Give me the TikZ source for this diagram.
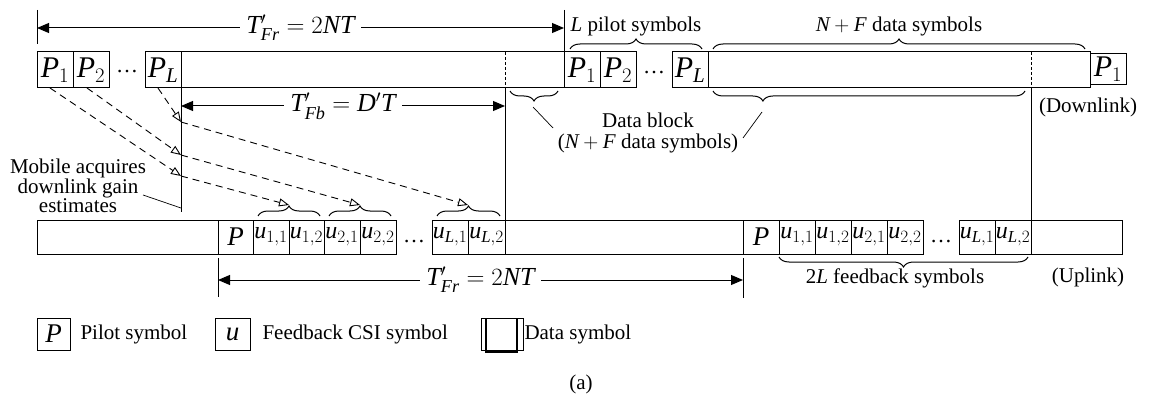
\documentclass[tikz,border=0pt]{standalone}
\usepackage{amsmath}
\usepackage{fontspec}
\setmainfont{Liberation Serif}
\usetikzlibrary{arrows.meta,decorations.pathreplacing,calc}
\newcommand{\fsz}[1]{\fontsize{#1}{#1}\selectfont}

\begin{document}
\begin{tikzpicture}[x=1pt,y=-1pt,line width=1pt,
  cell/.style={draw, inner sep=0pt, outer sep=0pt, anchor=west},
  dcell/.style={cell, minimum height=36pt, font=\fsz{30}},
  ucell/.style={cell, minimum height=34pt, font=\fsz{24}},
  txt/.style={font=\fsz{21}, inner sep=0pt},
  dotsym/.style={font=\fsz{22}, inner sep=0pt},
  dimarrow/.style={{Triangle[length=12pt,width=10pt]}-{Triangle[length=12pt,width=10pt]}},
  dimlabel/.style={fill=white, font=\fsz{26}, inner xsep=6pt, inner ysep=0pt},
  ray/.style={line width=0.9pt, dash pattern=on 7pt off 5pt, -{Triangle[open,length=10pt,width=8pt]}},
  brc/.style={decorate, decoration={brace, amplitude=10pt}},
  divider/.style={dash pattern=on 3pt off 2pt}
]
\useasboundingbox (0,0) rectangle (1150,406);

% ---------------- downlink frame ----------------
\node[dcell, minimum width=36pt] (dP1a) at (37,70) {$\mathit{P}_1$};
\node[dcell, minimum width=36pt] (dP2a) at (73,70) {$\mathit{P}_2$};
\node[dotsym] (ddotA) at (127,72) {\dots};
\node[dcell, minimum width=36pt] (dPLa) at (145,70) {$\mathit{P}_{\mathit{L}}$};
\node[dcell, minimum width=383pt] (dDa) at (181,70) {};
\node[dcell, minimum width=36pt] (dP1b) at (564,70) {$\mathit{P}_1$};
\node[dcell, minimum width=36pt] (dP2b) at (600,70) {$\mathit{P}_2$};
\node[dotsym] (ddotB) at (654,73) {\dots};
\node[dcell, minimum width=36pt] (dPLb) at (672,70) {$\mathit{P}_{\mathit{L}}$};
\node[dcell, minimum width=382pt] (dDb) at (708,70) {};
\node[dcell, minimum width=36pt, minimum height=31pt] (dP1c) at (1090,69) {$\mathit{P}_1$};

% ---------------- uplink frame ----------------
\node[ucell, minimum width=181pt] (uDa) at (37,237) {};
\node[ucell, minimum width=35pt, font=\fsz{27}] (uPa) at (218,237) {$\mathit{P}$};
\node[ucell, minimum width=36pt] (u11a) at (253,237) {$\mathit{u}_{1,1}$};
\node[ucell, minimum width=35pt] (u12a) at (289,237) {$\mathit{u}_{1,2}$};
\node[ucell, minimum width=36pt] (u21a) at (324,237) {$\mathit{u}_{2,1}$};
\node[ucell, minimum width=36pt] (u22a) at (360,237) {$\mathit{u}_{2,2}$};
\node[dotsym] (udotA) at (414,242) {\dots};
\node[ucell, minimum width=36pt] (uL1a) at (432,237) {$\mathit{u}_{\mathit{L},1}$};
\node[ucell, minimum width=37pt] (uL2a) at (468,237) {$\mathit{u}_{\mathit{L},2}$};
\node[ucell, minimum width=238pt] (uDb) at (505,237) {};
\node[ucell, minimum width=36pt, font=\fsz{27}] (uPb) at (743,237) {$\mathit{P}$};
\node[ucell, minimum width=36pt] (u11b) at (779,237) {$\mathit{u}_{1,1}$};
\node[ucell, minimum width=36pt] (u12b) at (815,237) {$\mathit{u}_{1,2}$};
\node[ucell, minimum width=36pt] (u21b) at (851,237) {$\mathit{u}_{2,1}$};
\node[ucell, minimum width=36pt] (u22b) at (887,237) {$\mathit{u}_{2,2}$};
\node[dotsym] (udotB) at (941,242) {\dots};
\node[ucell, minimum width=36pt] (uL1b) at (959,237) {$\mathit{u}_{\mathit{L},1}$};
\node[ucell, minimum width=36pt] (uL2b) at (995,237) {$\mathit{u}_{\mathit{L},2}$};
\node[ucell, minimum width=91pt] (uDc) at (1031,237) {};

% ---------------- frame boundaries ----------------
\draw[divider] (uL2a.north east |- dDa.north) -- (uL2a.north east |- dDa.south);
\draw (uL2a.north east |- dDa.south) -- (uL2a.north east);
\draw[divider] (uL2b.north east |- dDb.north) -- (uL2b.north east |- dDb.south);
\draw[line width=0.8pt] (uL2b.north east |- dDb.south) -- (uL2b.north east);

% ---------------- downlink frame period ----------------
\coordinate (tkA1) at ($(dP1a.north west)+(0,-42)$);
\coordinate (tkA2) at ($(dP1a.north west)+(0,-8)$);
\coordinate (tkB1) at ($(dP1b.north west)+(0,-42)$);
\draw (tkA1) -- (tkA2);
\draw (tkB1) -- (dP1b.north west);
\coordinate (tL) at ($(dP1a.north west)+(0,-24)$);
\coordinate (tR) at ($(dP1b.north west)+(0,-24)$);
\draw[dimarrow] (tL) -- node[dimlabel] (tFr) {$\mathit{T}'_{\mathit{Fr}} = 2\mathit{NT}$} (tR);

% ---------------- feedback delay ----------------
\coordinate (mbot) at ($(dPLa.south east)+(0,124)$);
\draw (dPLa.south east) -- (mbot);
\coordinate (fbL) at ($(dPLa.south east)+(0,18)$);
\coordinate (fbR) at ($(uL2a.north east |- dDa.south)+(0,18)$);
\draw[dimarrow] (fbL) -- node[dimlabel] (tFb) {$\mathit{T}'_{\mathit{Fb}} = \mathit{D}'\mathit{T}$} (fbR);

% ---------------- uplink frame period ----------------
\coordinate (tkC1) at ($(uPa.south west)+(0,4)$);
\coordinate (tkC2) at ($(uPa.south west)+(0,43)$);
\coordinate (tkD1) at ($(uPb.south west)+(0,4)$);
\coordinate (tkD2) at ($(uPb.south west)+(0,44)$);
\draw (tkC1) -- (tkC2);
\draw (tkD1) -- (tkD2);
\coordinate (bL) at ($(uPa.south west)+(0,26)$);
\coordinate (bR) at ($(uPb.south west)+(0,26)$);
\draw[dimarrow] (bL) -- node[dimlabel] (tFr2) {$\mathit{T}'_{\mathit{Fr}} = 2\mathit{NT}$} (bR);

% ---------------- braces on the downlink ----------------
\draw[brc] ($(dP1b.north west)+(6,-3)$) -- ($(dPLb.north east)+(-6,-3)$);
\node[txt] (lpil) at ($(dP1b.north west)!0.5!(dPLb.north east)+(0,-26)$) {$\mathit{L}$ pilot symbols};
\draw[brc] ($(dDb.north west)+(5,-3)$) -- ($(dDb.north east)+(-5,-3)$);
\node[txt] (nfd) at ($(dDb.north west)!0.5!(dDb.north east)+(0,-26)$) {$\mathit{N} + \mathit{F}$ data symbols};
\draw[brc] ($(dP1b.south west)+(-6,3)$) -- ($(uL2a.north east |- dDa.south)+(5,3)$);
\draw[brc, decoration={aspect=0.84}] ($(dDb.south west)+(317,3)$) -- ($(dDb.south west)+(5,3)$);

\node[txt] (dblk1) at (648,120) {Data block};
\node[txt] (dblk2) at (648,143) {($\mathit{N} + \mathit{F}$ data symbols)};
\coordinate (dbLa) at (533,107);
\coordinate (dbLb) at (553,128);
\coordinate (dbRa) at (762,112);
\coordinate (dbRb) at (743,138);
\draw[line width=0.7pt] (dbLa) -- (dbLb);
\draw[line width=0.7pt] (dbRa) -- (dbRb);

% ---------------- braces on the uplink ----------------
\draw[brc] ($(u11a.north west)+(5,-4)$) -- ($(u12a.north east)+(-4,-4)$);
\draw[brc] ($(u21a.north west)+(5,-4)$) -- ($(u22a.north east)+(-5,-4)$);
\draw[brc] ($(uL1a.north west)+(5,-4)$) -- ($(uL2a.north east)+(-5,-4)$);
\coordinate (bt1) at ($(u11a.north east)+(0,-15)$);
\coordinate (bt2) at ($(u21a.north east)+(0,-15)$);
\coordinate (btL) at ($(uL1a.north east)+(0,-15)$);
\draw[brc] ($(uL2b.south east)+(-3,3)$) -- ($(u11b.south west)+(0,3)$);
\node[txt] (fbs) at ($(u11b.south west)!0.5!(uL2b.south east)+(-10,24)$) {2$\mathit{L}$ feedback symbols};

% ---------------- channel estimates and feedback ----------------
\coordinate (m1) at ($(dPLa.south east)+(0,88)$);
\coordinate (m2) at ($(dPLa.south east)+(0,67)$);
\coordinate (mL) at ($(dPLa.south east)+(0,34)$);
\draw[ray] ([xshift=-5pt]dP1a.south) -- (m1);
\draw[ray] ([xshift=-4pt]dP2a.south) -- (m2);
\draw[ray] ([xshift=-5pt]dPLa.south) -- (mL);
\draw[ray] (m1) -- (bt1);
\draw[ray] (m2) -- (bt2);
\draw[ray] (mL) -- (btL);

\node[txt, align=center, font=\fontsize{21}{17.5}\selectfont] (mob) at (78,186) {Mobile acquires\\downlink gain\\estimates};
\coordinate (mobA) at (143,195);
\coordinate (mobB) at (181,208);
\draw[line width=0.7pt] (mobA) -- (mobB);

% ---------------- link names ----------------
\node[txt] (dnl) at (1088,107) {(Downlink)};
\node[txt] (upl) at (1088,277) {(Uplink)};

% ---------------- key ----------------
\node[cell, minimum width=33pt, minimum height=32pt, font=\fsz{27}] (kP) at (37,334) {$\mathit{P}$};
\node[txt, anchor=west] (kPt) at (80,334) {Pilot symbol};
\node[cell, minimum width=35pt, minimum height=32pt, font=\fsz{27}] (kU) at (215,334) {$\mathit{u}$};
\node[txt, anchor=west] (kUt) at (262,334) {Feedback CSI symbol};
\node[cell, minimum width=42pt, minimum height=32pt, line width=0.6pt] (kD) at (481,334) {};
\draw[line width=2.2pt] ($(kD.north west)+(5,0)$) -- ($(kD.south west)+(5,2)$) -- ($(kD.south east)+(-6,2)$) -- ($(kD.north east)+(-6,0)$);
\node[txt, anchor=west] (kDt) at (524,334) {Data symbol};

\node[txt] (cap) at (581,384) {(a)};
\end{tikzpicture}
\end{document}
